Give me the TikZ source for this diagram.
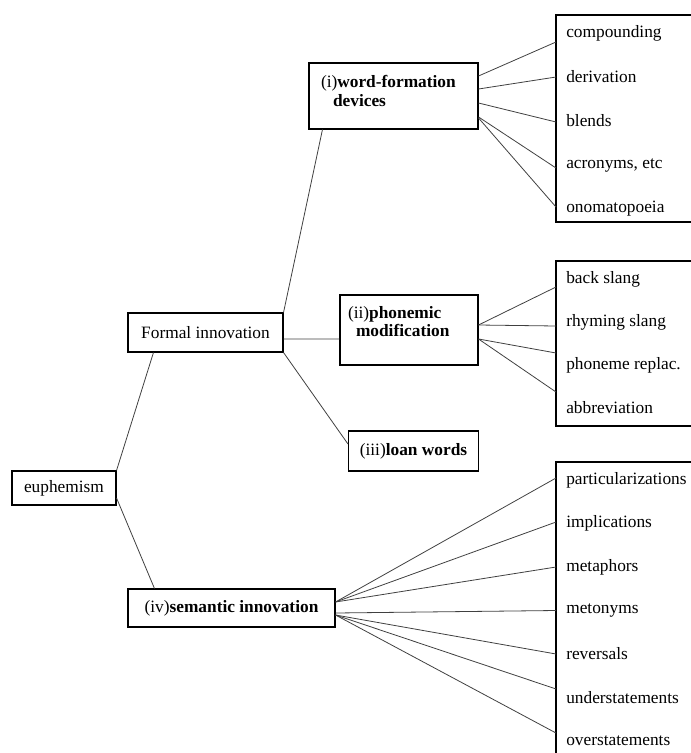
\documentclass[tikz,border=0pt]{standalone}
\usepackage{fontspec}
\setmainfont{Liberation Serif}

\tikzset{
  box/.style={draw, line width=0.8pt, inner sep=0pt},
  item/.style={anchor=west, inner xsep=7.5pt, inner ysep=0pt},
  link/.style={draw=black!75, line width=0.6pt}
}

\begin{document}
\begin{tikzpicture}[x=0.75pt, y=-0.75pt, font=\fontsize{13}{15.5}\selectfont]
  \useasboundingbox (0,0) rectangle (691,753);
  \clip (0,0) rectangle (691,753);

  % main boxes
  \node[box, minimum width=78pt, minimum height=25.5pt] (eu) at (64,488) {euphemism};
  \node[box, minimum width=116.25pt, minimum height=29.25pt] (fi) at (205.5,332.5) {Formal innovation};
  \node[box, minimum width=155.25pt, minimum height=28.5pt] (sem) at (231.5,608) {(iv)\textbf{semantic innovation}};
  \node[box, minimum width=126.75pt, minimum height=49.5pt, text width=108.75pt, align=left,
    font=\fontsize{13}{14}\selectfont] (wfd) at (393.5,96)
    {(i)\textbf{word-formation}\\\hspace*{9pt}\textbf{devices}\\[-6.5pt]\mbox{}};
  \node[box, minimum width=103.5pt, minimum height=52.5pt, text width=91.5pt, align=left,
    font=\fontsize{13}{14}\selectfont] (pm) at (409,330)
    {(ii)\textbf{phonemic}\\\hspace*{6pt}\textbf{modification}\\[-1.2pt]\mbox{}};
  \node[box, minimum width=97.5pt, minimum height=30pt] (lw) at (413.5,451) {(iii)\textbf{loan words}};

  % list boxes
  \draw[box] (556,15) rectangle (700,222);
  \draw[box] (556,261) rectangle (700,426);
  \draw[box] (556,462) rectangle (700,770);

  \node[item] (c1) at (556,33) {compounding};
  \node[item] (c2) at (556,77) {derivation};
  \node[item] (c3) at (556,121) {blends};
  \node[item] (c4) at (556,165) {acronyms, etc};
  \node[item] (c5) at (556,209) {onomatopoeia};

  \node[item] (b1) at (556,279) {back slang};
  \node[item] (b2) at (556,322) {rhyming slang};
  \node[item] (b3) at (556,365) {phoneme replac.};
  \node[item] (b4) at (556,408) {abbreviation};

  \node[item] (s1) at (556,480) {particularizations};
  \node[item] (s2) at (556,523.5) {implications};
  \node[item] (s3) at (556,567) {metaphors};
  \node[item] (s4) at (556,610.5) {metonyms};
  \node[item] (s5) at (556,654) {reversals};
  \node[item] (s6) at (556,697.5) {understatements};
  \node[item] (s7) at (556,741) {overstatements};

  % tree links
  \draw[link] (eu.north east) -- ([xshift=19.5pt]fi.south west);
  \draw[link] ([yshift=-7.5pt]eu.east) -- ([xshift=20.25pt]sem.north west);
  \draw[link] (fi.north east) -- ([xshift=10.5pt]wfd.south west);
  \draw[link] ([yshift=-4.9pt]fi.east) -- ([yshift=-6.75pt]pm.west);
  \draw[link] (fi.south east) -- ([yshift=5.25pt]lw.west);

  \draw[link] ([yshift=15pt]wfd.east) -- ([yshift=-6.75pt]c1.west);
  \draw[link] ([yshift=5.25pt]wfd.east) -- (c2.west);
  \draw[link] ([yshift=-5.25pt]wfd.east) -- ([yshift=-0.75pt]c3.west);
  \draw[link] ([yshift=-15.75pt]wfd.east) -- ([yshift=-2.25pt]c4.west);
  \draw[link] ([yshift=-16.5pt]wfd.east) -- ([yshift=1.5pt]c5.west);

  \draw[link] ([yshift=3.75pt]pm.east) -- ([yshift=-6pt]b1.west);
  \draw[link] ([yshift=3.75pt]pm.east) -- ([yshift=-3pt]b2.west);
  \draw[link] ([yshift=-6.75pt]pm.east) -- ([yshift=9pt]b3.west);
  \draw[link] ([yshift=-6.75pt]pm.east) -- ([yshift=12pt]b4.west);

  \draw[link] ([yshift=4.5pt]sem.east) -- ([yshift=1.5pt]s1.west);
  \draw[link] ([yshift=4.5pt]sem.east) -- ([yshift=1.1pt]s2.west);
  \draw[link] ([yshift=4.5pt]sem.east) -- (s3.west);
  \draw[link] ([yshift=-3.75pt]sem.east) -- (s4.west);
  \draw[link] ([yshift=-5.25pt]sem.east) -- (s5.west);
  \draw[link] ([yshift=-5.25pt]sem.east) -- ([yshift=6.4pt]s6.west);
  \draw[link] ([yshift=-5.25pt]sem.east) -- ([yshift=6pt]s7.west);
\end{tikzpicture}
\end{document}
